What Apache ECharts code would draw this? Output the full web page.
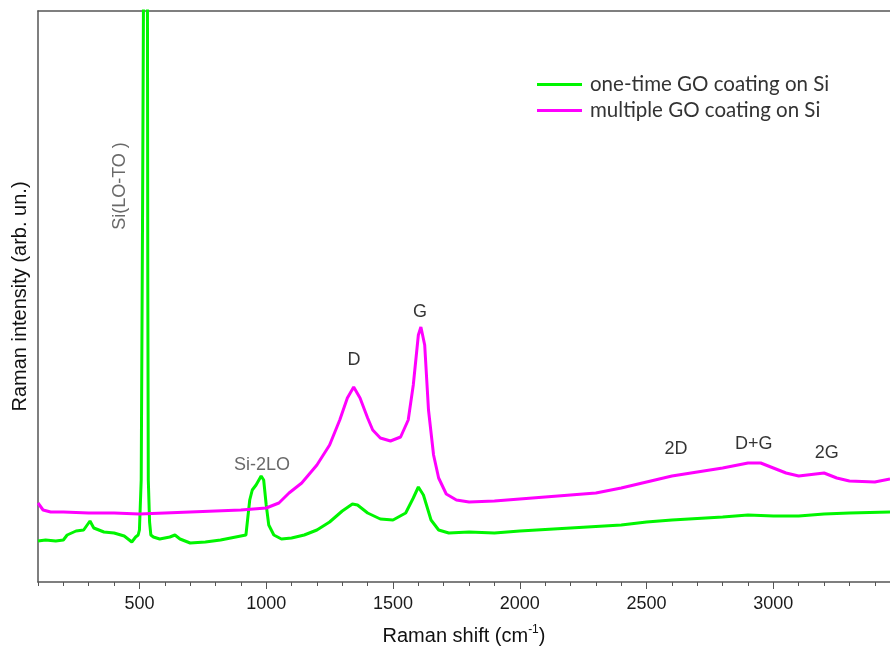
<!DOCTYPE html>
<html>
<head>
<meta charset="utf-8">
<script src="https://cdn.jsdelivr.net/npm/echarts@6/dist/echarts.min.js"></script>
<style>html,body{margin:0;padding:0;background:#fff}#c{width:890px;height:646px}</style>
</head>
<body>
<div id="c"></div>
<script>
// Raman shift (cm^-1) and intensity (arb. un.)
const greenShift = [100,130,170,200,215,250,280,305,320,360,400,440,470,485,495,500,507,512,518,522,526,531,533,535,540,545,555,580,620,640,660,680,700,760,820,860,900,920,935,945,960,980,990,1000,1010,1030,1060,1100,1150,1200,1250,1300,1340,1360,1400,1450,1500,1550,1580,1600,1620,1650,1680,1720,1800,1900,2000,2200,2400,2500,2600,2800,2900,3000,3100,3200,3300,3460];
const greenInt   = [41,42,41,42,47,51,52,61,54,50,49,46,40,45,47,52,102,350,700,1400,1400,700,300,102,60,47,45,43,45,47,43,41,39,40,42,44,46,47,82,92,97,106,102,77,57,47,43,44,47,52,60,71,78,77,69,63,62,69,84,95,87,62,52,49,50,49,51,54,57,60,62,65,67,66,66,68,69,70];
const magentaShift = [100,120,150,200,300,400,500,600,700,800,900,1000,1050,1090,1140,1200,1250,1290,1320,1345,1370,1400,1420,1450,1490,1530,1560,1580,1600,1610,1625,1640,1660,1680,1710,1750,1800,1900,2000,2100,2200,2300,2400,2500,2600,2700,2800,2900,2950,3000,3050,3100,3200,3250,3300,3400,3460];
const magentaInt   = [79,72,70,70,69,69,68,69,70,71,72,74,79,89,99,117,137,162,184,195,184,164,152,144,141,145,162,197,247,255,237,172,127,104,88,82,80,81,83,85,87,89,94,100,106,110,114,119,119,114,109,106,109,104,101,100,103];
const majorTicks = [500,1000,1500,2000,2500,3000];
const minorTicks = [100,200,300,400,500,600,700,800,900,1000,1100,1200,1300,1400,1500,1600,1700,1800,1900,2000,2100,2200,2300,2400,2500,2600,2700,2800,2900,3000,3100,3200,3300,3400];
const seriesNames = ['one-time GO coating on Si','multiple GO coating on Si'];
const peakLabels = [
  {text:'D', x:1346, y:222, bold:true},
  {text:'G', x:1606, y:270, bold:true},
  {text:'2D', x:2616, y:133, bold:true},
  {text:'D+G', x:2923, y:138, bold:true},
  {text:'2G', x:3211, y:129, bold:true},
  {text:'Si-2LO', x:983, y:117, bold:false},
  {text:'Si(LO-TO )', x:423, y:396, bold:false, rotate:90}
];

const zip = (a,b)=>a.map((v,i)=>[v,b[i]]);
const chart = echarts.init(document.getElementById('c'), null, {renderer:'canvas'});
const FONT = 'Liberation Sans';
const xMin = 100, xMax = 3460;
chart.setOption({
  animation:false,
  backgroundColor:'#fff',
  grid:{left:38,right:0,top:11,bottom:64,containLabel:false,outerBoundsMode:'none'},
  legend:{
    data:seriesNames, orient:'vertical', left:537, top:74, padding:0,
    itemWidth:45, itemHeight:3, itemGap:5,
    icon:'rect',
    textStyle:{fontFamily:'Lato', fontSize:20.5, color:'#333', lineHeight:20, padding:[0,0,0,3]}
  },
  xAxis:[
    {type:'value', min:xMin, max:xMax, position:'bottom',
     name:'Raman shift (cm{sup|-1})', nameLocation:'middle', nameGap:42,
     nameTextStyle:{fontFamily:FONT, fontSize:20, color:'#111',
       rich:{sup:{fontSize:12, fontFamily:FONT, color:'#111', padding:[0,0,12,0]}}},
     axisLine:{show:true, onZero:false, lineStyle:{color:'#555', width:1.5}},
     axisTick:{show:true, length:4, customValues:minorTicks, lineStyle:{color:'#555', width:1}},
     axisLabel:{show:true, customValues:majorTicks, margin:13, formatter:v=>String(v),
       fontFamily:FONT, fontSize:18, color:'#1a1a1a'},
     splitLine:{show:false}},
    {type:'value', min:xMin, max:xMax, position:'bottom',
     axisLine:{show:false},
     axisTick:{show:true, length:7, customValues:majorTicks, lineStyle:{color:'#555', width:1}},
     axisLabel:{show:false}, splitLine:{show:false}},
    {type:'value', min:xMin, max:xMax, position:'top',
     axisLine:{show:true, lineStyle:{color:'#555', width:1.5}},
     axisTick:{show:false}, axisLabel:{show:false}, splitLine:{show:false}}
  ],
  yAxis:{type:'value', min:0, max:571,
     name:'Raman intensity (arb. un.)', nameLocation:'middle', nameGap:8,
     nameTextStyle:{fontFamily:FONT, fontSize:20, color:'#111'},
     axisLine:{show:true, lineStyle:{color:'#555', width:1.5}},
     axisTick:{show:false}, axisLabel:{show:false}, splitLine:{show:false}},
  series:[
    {name:seriesNames[0], type:'line', data:zip(greenShift,greenInt), showSymbol:false, clip:true,
     lineStyle:{color:'#00f500', width:3}, itemStyle:{color:'#00f500'}, z:2},
    {name:seriesNames[1], type:'line', data:zip(magentaShift,magentaInt), showSymbol:false, clip:true,
     lineStyle:{color:'#ff00ff', width:3}, itemStyle:{color:'#ff00ff'}, z:3},
    {name:'labels', type:'scatter', symbolSize:0, silent:true, z:5,
     data:peakLabels.map(p=>({value:[p.x,p.y], name:p.text,
       label:{show:true, position:'inside', formatter:p.text, rotate:p.rotate||0,
         fontFamily:FONT, fontSize:18, fontWeight:'normal',
         color:p.bold?'#000':'#444'}}))}
  ]
});
</script>
</body>
</html>
